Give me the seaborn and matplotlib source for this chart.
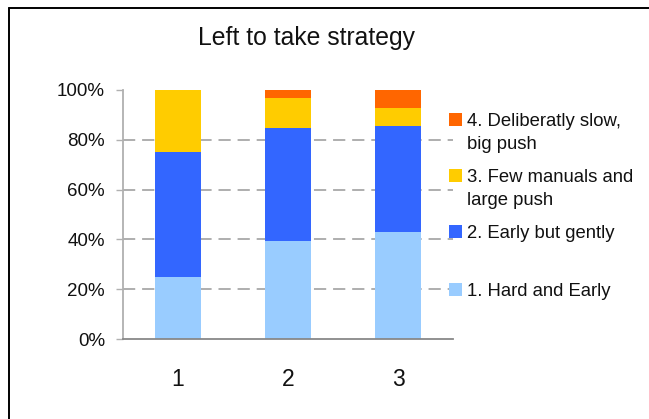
import matplotlib
matplotlib.use("Agg")
import matplotlib.pyplot as plt
from matplotlib.lines import Line2D
from matplotlib.patches import Rectangle
import numpy as np
import pandas as pd
import seaborn as sns

# ---- data -------------------------------------------------------------
groups = ["1", "2", "3"]
series_names = [
    "1. Hard and Early",
    "2. Early but gently",
    "3. Few manuals and\nlarge push",
    "4. Deliberatly slow,\nbig push",
]
hard_early = [25.0, 39.39, 42.86]
early_gently = [50.0, 45.45, 42.86]
few_manuals = [25.0, 12.12, 7.14]
deliberately_slow = [0.0, 3.03, 7.14]
colors = ["#99CCFF", "#3366FF", "#FFCC00", "#FF6600"]
y_ticks = [0, 20, 40, 60, 80, 100]
y_tick_labels = ["0%", "20%", "40%", "60%", "80%", "100%"]
title = "Left to take strategy"

# ---- figure -----------------------------------------------------------
W, H = 649, 419
sns.set_style("white")
plt.rcParams["font.family"] = ["Liberation Sans", "DejaVu Sans"]
fig = plt.figure(figsize=(W / 100, H / 100), dpi=100)
fig.patch.set_facecolor("white")

def fx(px):
    return px / W

def fy(py):
    return 1 - py / H

ax = fig.add_axes([fx(123), fy(339), fx(453) - fx(123), fy(90) - fy(339)])

layers = [hard_early, early_gently, few_manuals, deliberately_slow]
cum = np.cumsum(np.array(layers), axis=0)

# stacked bars: draw the tallest cumulative layer first
for i in range(len(layers) - 1, -1, -1):
    df = pd.DataFrame({"group": groups, "value": cum[i]})
    sns.barplot(data=df, x="group", y="value", order=groups, color=colors[i],
                width=0.41, saturation=1, ax=ax, linewidth=0, zorder=3)

ax.set_ylim(0, 100)
ax.set_xlim(-0.5, 2.5)
ax.set_xlabel("")
ax.set_ylabel("")
ax.set_yticks(y_ticks)
ax.set_yticklabels(y_tick_labels, fontsize=13.5, color="#111111")
ax.tick_params(axis="y", direction="out", length=5, width=1, color="#b0b0b0",
               pad=8, left=True)
ax.tick_params(axis="x", length=0, pad=21, labelsize=16.5, labelcolor="#111111")

for g in [20, 40, 60, 80]:
    ax.axhline(g, color="#999999", lw=1.1, ls=(0, (8, 4.5)), zorder=1)

for side in ["top", "right"]:
    ax.spines[side].set_visible(False)
ax.spines["left"].set_color("#b0b0b0")
ax.spines["left"].set_linewidth(1.3)
ax.spines["bottom"].set_color("#888888")
ax.spines["bottom"].set_linewidth(1.3)
ax.spines["bottom"].set_zorder(4)

# title
fig.text(fx(306), fy(38), title, ha="center", va="center", fontsize=17.8,
         color="#111111")

# legend drawn as swatches with text beside them
# (series index, swatch centre y, baseline of the last text line)
legend_rows = [
    (3, 120, 149),
    (2, 176, 205),
    (1, 231, 238),
    (0, 289, 296),
]
for idx, center_y, baseline in legend_rows:
    fig.patches.append(Rectangle((fx(449), fy(center_y + 6.5)), fx(13), 13 / H,
                                 transform=fig.transFigure, facecolor=colors[idx],
                                 edgecolor="none"))
    fig.text(fx(467), fy(baseline), series_names[idx], ha="left", va="baseline",
             fontsize=13.3, color="#111111", linespacing=1.45)

# frame lines along top and left edge
fig.add_artist(Line2D([fx(9), fx(9)], [fy(8), 0], transform=fig.transFigure,
                      color="black", lw=1.4))
fig.add_artist(Line2D([fx(9), 1], [fy(8), fy(8)], transform=fig.transFigure,
                      color="black", lw=1.4))

fig.savefig("out.png", dpi=100)
